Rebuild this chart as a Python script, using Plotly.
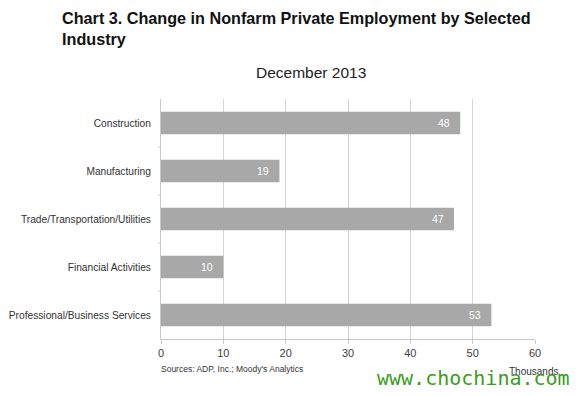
import plotly.graph_objects as go

categories = ["Construction", "Manufacturing", "Trade/Transportation/Utilities",
              "Financial Activities", "Professional/Business Services"]
values = [48, 19, 47, 10, 53]
x_ticks = [0, 10, 20, 30, 40, 50, 60]

# page offset (default body margin) -> work in reference pixel coords
OFF = 8
W, H = 578 - OFF, 396 - OFF
L, R, T, B = 161 - OFF, 578 - 535, 99 - OFF, 396 - 339
pw, ph = W - L - R, H - T - B

def px(x):
    return (x - OFF - L) / pw

def py(y):
    return (H - B - (y - OFF)) / ph

FONT = "Liberation Sans, Arial"

fig = go.Figure()
fig.add_trace(go.Bar(
    y=categories, x=values, orientation="h",
    marker=dict(color="#a8a8a8", line=dict(width=0)),
    width=0.47,
    hoverinfo="skip",
))

fig.update_layout(
    width=W, height=H,
    margin=dict(l=L, r=R, t=T, b=B, autoexpand=False),
    paper_bgcolor="white", plot_bgcolor="white",
    showlegend=False,
    font=dict(family=FONT, color="#333333"),
    xaxis=dict(range=[0, 60], tickvals=x_ticks, showgrid=True, gridcolor="#d4d4d4",
               gridwidth=1, zeroline=False, showline=True, linecolor="#c8c8c8",
               ticks="outside", ticklen=4, tickcolor="#c8c8c8", automargin=False,
               tickfont=dict(size=11, color="#404040"), fixedrange=True),
    yaxis=dict(autorange="reversed", showgrid=False, showline=True, linecolor="#c8c8c8",
               ticks="", tickfont=dict(size=10.2, color="#333333"), ticklabelstandoff=7,
               automargin=False, fixedrange=True),
)

annots = [
    dict(text="<b>Chart 3. Change in Nonfarm Private Employment by Selected<br>Industry</b>",
         x=px(60), y=py(7), xanchor="left", yanchor="top", align="left",
         xref="paper", yref="paper",
         font=dict(size=16.2, color="#111111", family=FONT)),
    dict(text="December 2013", x=px(311), y=py(73), xanchor="center", yanchor="middle",
         xref="paper", yref="paper",
         font=dict(size=15.5, color="#222222", family=FONT)),
    dict(text="Sources: ADP, Inc.; Moody's Analytics", x=px(159), y=py(369),
         xanchor="left", yanchor="middle", xref="paper", yref="paper",
         font=dict(size=8.5, color="#333333", family=FONT)),
    dict(text="Thousands", x=px(560), y=py(371), xanchor="right", yanchor="middle",
         xref="paper", yref="paper",
         font=dict(size=10, color="#333333", family=FONT)),
    dict(text="www.chochina.com", x=px(473.5), y=py(378), xanchor="center", yanchor="middle",
         xref="paper", yref="paper",
         font=dict(size=20, color="#3a9c1c", family="DejaVu Sans Mono, monospace")),
]
for c, v in zip(categories, values):
    annots.append(dict(text=str(v), x=v, y=c, xref="x", yref="y", xanchor="right",
                       yanchor="middle", xshift=-8,
                       font=dict(size=10.5, color="white", family=FONT)))
for a in annots:
    a.update(showarrow=False)
fig.update_layout(annotations=annots)

# category separator ticks on y axis
shapes = []
for i in range(1, len(categories)):
    yy = 99 + 240 * i / len(categories)
    shapes.append(dict(type="line", xref="paper", yref="paper",
                       x0=px(158), x1=px(161), y0=py(yy), y1=py(yy),
                       line=dict(color="#c8c8c8", width=1)))
fig.update_layout(shapes=shapes)

fig.write_html("out.html")
